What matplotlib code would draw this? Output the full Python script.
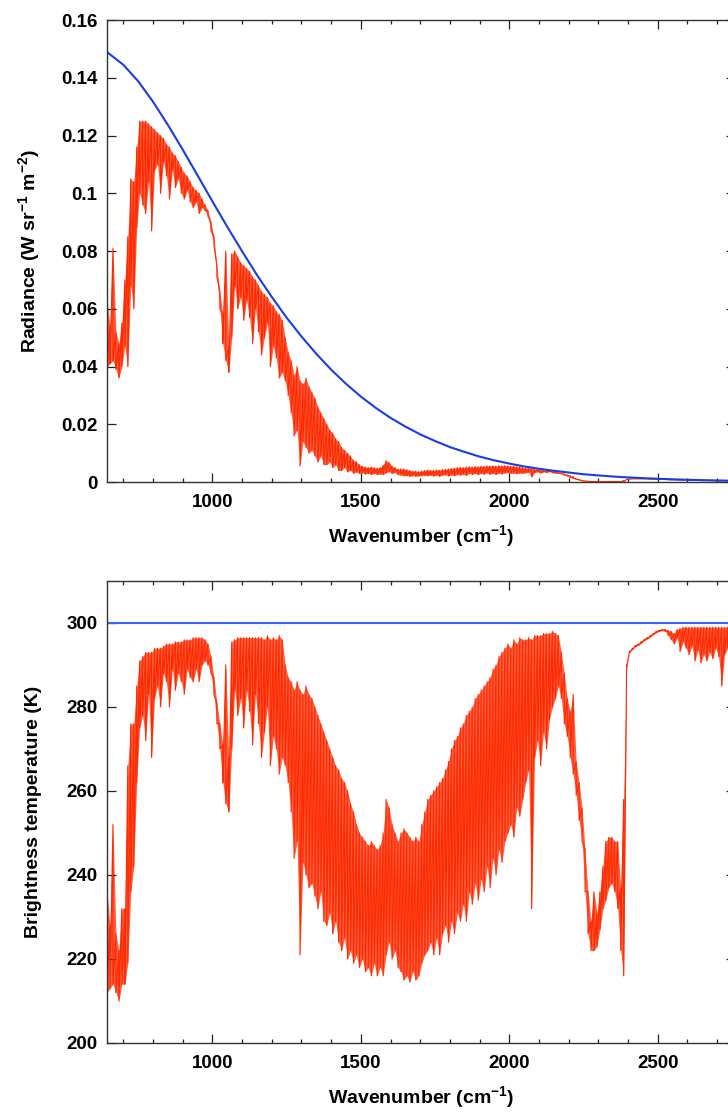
import numpy as np
import matplotlib
matplotlib.use('Agg')
import matplotlib.pyplot as plt
from matplotlib.ticker import MultipleLocator, FuncFormatter

# sampling grid of the spectrum readings (cm-1)
wn = np.arange(645, 2756, 10)

# radiance, upper / lower edge of the line spectrum (W sr-1 m-2)
rad_top = [
    0.063, 0.054, 0.081, 0.052, 0.048, 0.055, 0.070, 0.085, 0.105, 0.104,
    0.116, 0.125, 0.125, 0.125, 0.124, 0.123, 0.122, 0.121, 0.120, 0.119,
    0.117, 0.116, 0.114, 0.113, 0.111, 0.109, 0.107, 0.106, 0.104, 0.102,
    0.101, 0.100, 0.098, 0.096, 0.094, 0.090, 0.085, 0.075, 0.066, 0.058,
    0.080, 0.047, 0.079, 0.080, 0.078, 0.076, 0.075, 0.074, 0.073, 0.071,
    0.070, 0.068, 0.066, 0.065, 0.064, 0.062, 0.061, 0.059, 0.058, 0.056,
    0.050, 0.045, 0.042, 0.037, 0.040, 0.035, 0.034, 0.036, 0.033, 0.031,
    0.029, 0.026, 0.024, 0.022, 0.020, 0.018, 0.017, 0.015, 0.014, 0.012,
    0.011, 0.010, 0.009, 0.0075, 0.007, 0.006, 0.0055, 0.0052, 0.005, 0.0052,
    0.005, 0.0048, 0.005, 0.0058, 0.0074, 0.0068, 0.0055, 0.005, 0.0045, 0.0046,
    0.0045, 0.0043, 0.004, 0.0038, 0.0038, 0.0036, 0.0038, 0.004, 0.0042, 0.0041,
    0.004, 0.0042, 0.0041, 0.0043, 0.0044, 0.0045, 0.0047, 0.0048, 0.005, 0.0051,
    0.005, 0.0052, 0.0053, 0.0052, 0.0054, 0.0053, 0.0055, 0.0054, 0.0056, 0.0055,
    0.0056, 0.0055, 0.0057, 0.0056, 0.0057, 0.0056, 0.0055, 0.0055, 0.0053, 0.0053,
    0.0050, 0.0049, 0.0048, 0.0047, 0.0045, 0.0044, 0.0042, 0.0041, 0.0040, 0.0039,
    0.0037, 0.0036, 0.0034, 0.0031, 0.0028, 0.0025, 0.0022, 0.0019, 0.0012, 0.0009,
    0.0006, 0.0004, 0.0003, 0.0002, 0.0002, 0.0002, 0.0002, 0.0002, 0.0002, 0.0002,
    0.0002, 0.0002, 0.0002, 0.0002, 0.0005, 0.0009, 0.0010, 0.0011, 0.0011, 0.0011,
    0.0011, 0.0011, 0.0011, 0.0010, 0.0010, 0.0010, 0.0010, 0.0010, 0.0009, 0.0009,
    0.0009, 0.0008, 0.0008, 0.0008, 0.0008, 0.0008, 0.0007, 0.0007, 0.0007, 0.0007,
    0.0006, 0.0006, 0.0006, 0.0006, 0.0006, 0.0005, 0.0005, 0.0005, 0.0005, 0.0005,
    0.0005, 0.0004,
]
rad_low = [
    0.040, 0.041, 0.042, 0.039, 0.036, 0.040, 0.047, 0.040, 0.068, 0.060,
    0.088, 0.100, 0.096, 0.093, 0.104, 0.087, 0.108, 0.110, 0.100, 0.111,
    0.106, 0.098, 0.108, 0.102, 0.105, 0.100, 0.098, 0.101, 0.097, 0.095,
    0.097, 0.093, 0.095, 0.094, 0.092, 0.087, 0.082, 0.071, 0.060, 0.048,
    0.042, 0.038, 0.050, 0.068, 0.060, 0.064, 0.056, 0.063, 0.057, 0.048,
    0.060, 0.052, 0.044, 0.050, 0.055, 0.040, 0.047, 0.043, 0.036, 0.038,
    0.035, 0.030, 0.024, 0.016, 0.018, 0.0056, 0.014, 0.012, 0.010, 0.011,
    0.009, 0.007, 0.009, 0.006, 0.006, 0.007, 0.005, 0.006, 0.004, 0.004,
    0.005, 0.0035, 0.004, 0.003, 0.0035, 0.003, 0.0032, 0.0028, 0.003, 0.0026,
    0.003, 0.0026, 0.0028, 0.0026, 0.0032, 0.0036, 0.003, 0.0033, 0.0026, 0.0024,
    0.0022, 0.0022, 0.002, 0.0022, 0.002, 0.0021, 0.0022, 0.0023, 0.0022, 0.0024,
    0.0021, 0.0024, 0.002, 0.0024, 0.0025, 0.0021, 0.0025, 0.0022, 0.0026, 0.0024,
    0.0027, 0.0023, 0.003, 0.0026, 0.003, 0.0026, 0.003, 0.0027, 0.0032, 0.0027,
    0.0030, 0.0026, 0.0031, 0.0028, 0.0032, 0.0033, 0.0030, 0.0031, 0.0029, 0.0031,
    0.0030, 0.0032, 0.0034, 0.0018, 0.0033, 0.0035, 0.0031, 0.0035, 0.0033, 0.0036,
    0.0032, 0.0031, 0.0030, 0.0028, 0.0024, 0.0021, 0.0015, 0.0013, 0.0009, 0.0007,
    0.0004, 0.0003, 0.0002, 0.0001, 0.0001, 0.0001, 0.0001, 0.0001, 0.0001, 0.0001,
    0.0001, 0.0001, 0.0001, 0.0001, 0.0001, 0.0009, 0.0010, 0.0011, 0.0011, 0.0011,
    0.0011, 0.0011, 0.0011, 0.0010, 0.0010, 0.0010, 0.0010, 0.0009, 0.0009, 0.0008,
    0.0008, 0.0008, 0.0007, 0.0007, 0.0007, 0.0007, 0.0006, 0.0006, 0.0006, 0.0006,
    0.0005, 0.0005, 0.0005, 0.0005, 0.0005, 0.0004, 0.0004, 0.0004, 0.0004, 0.0004,
    0.0004, 0.0004,
]

# brightness temperature, upper / lower edge (K)
bt_top = [
    236, 228, 252, 226, 222, 232, 232, 266, 276, 276,
    285, 291, 292, 293, 293, 293, 294, 294, 294, 294.5,
    295, 295, 295, 295.5, 295.5, 295.5, 296, 296, 296, 296.5,
    296.5, 296.5, 296.5, 296, 295, 292, 287, 281, 276, 271,
    290, 268, 295.5, 296, 296.5, 296.5, 296.5, 296.5, 296.5, 296.5,
    296.5, 296.5, 296.5, 296, 297, 296, 296.5, 296, 297, 296,
    290, 287, 286, 284, 286, 284, 283, 285, 283, 282,
    280, 278, 276, 274, 272, 270, 268, 266, 265, 263,
    262, 260, 257, 255, 252, 250, 249, 248, 247, 248,
    247, 246, 247, 250, 258, 256, 252, 250, 248, 250,
    251, 250, 249, 248, 249, 248, 252, 255, 258, 259,
    260, 261, 262, 263, 265, 267, 270, 272, 273, 275,
    276, 278, 279, 280, 282, 283, 284, 285, 286, 287,
    289, 290, 292, 293, 294, 295, 294, 296, 295, 296.5,
    296, 296, 296.5, 296, 297, 297, 297, 297.5, 297.5, 297.5,
    298, 297.5, 297, 293, 288, 282, 279, 283, 267, 262,
    256, 246, 236, 229, 236, 231, 236, 242, 248, 249,
    249, 248, 248, 237, 258, 290, 293.3, 294, 294.7, 295,
    295.6, 296.1, 296.6, 297, 297.5, 298, 298.3, 298.5, 298.5, 298.2,
    298, 297.5, 298.5, 298.7, 299, 299, 299, 299, 299, 299,
    299, 299, 299, 299, 299, 299, 299, 299, 299, 299,
    299, 299,
]
bt_low = [
    212, 213, 214, 212, 210, 214, 214, 219, 236, 242,
    262, 275, 278, 272, 283, 268, 282, 285, 280, 288,
    286, 280, 289, 284, 288, 286, 283, 289, 287, 286,
    289, 286, 290, 291, 290, 288, 283, 276, 270, 262,
    257, 255, 270, 284, 278, 282, 275, 284, 279, 271,
    283, 276, 268, 274, 280, 266, 273, 270, 264, 268,
    266, 262, 255, 244, 248, 221, 243, 240, 237, 238,
    235, 232, 236, 229, 228, 231, 226, 229, 224, 222,
    225, 220, 222, 219, 221, 218, 220, 217, 218, 216,
    219, 216, 218, 216, 221, 224, 220, 222, 218, 217,
    215, 216, 214.5, 217, 215, 216, 219, 221, 222, 224,
    221, 225, 221, 226, 228, 224, 229, 226, 231, 229,
    233, 229, 236, 233, 238, 234, 239, 236, 242, 237,
    244, 240, 246, 243, 248, 250, 252, 249, 256, 254,
    258, 262, 265, 232, 268, 272, 266, 274, 270, 277,
    280, 282, 285, 282, 276, 273, 268, 264, 259, 253,
    248, 236, 226, 222, 222, 223, 227, 232, 234, 237,
    238, 236, 232, 222, 216, 289.5, 293, 293.7, 294.4, 294.7,
    295.2, 295.8, 296.2, 296.7, 297.2, 297.7, 298, 298.2, 298, 297,
    296, 295, 296.5, 293.2, 295.5, 294, 292.5, 294.5, 291, 293.5,
    290.5, 292.5, 291, 293, 291.5, 294, 292, 285, 292.5, 294,
    293, 294,
]

# 300 K blackbody reference
bb_wn = [645, 650, 700, 750, 800, 850, 900, 950, 1000, 1050, 1100, 1150,
         1200, 1250, 1300, 1350, 1400, 1450, 1500, 1550, 1600, 1650, 1700,
         1750, 1800, 1850, 1900, 1950, 2000, 2050, 2100, 2150, 2200, 2250,
         2300, 2350, 2400, 2450, 2500, 2550, 2600, 2650, 2700, 2750, 2760]
bb_rad = [0.1490, 0.1485, 0.1445, 0.1388, 0.1317, 0.1237, 0.1151, 0.1062,
          0.0972, 0.0884, 0.0799, 0.0717, 0.0641, 0.0569, 0.0504, 0.0444,
          0.0389, 0.0340, 0.0296, 0.0257, 0.0222, 0.0192, 0.0165, 0.0142,
          0.0121, 0.0104, 0.0088, 0.0075, 0.0064, 0.0054, 0.0046, 0.0039,
          0.0033, 0.0027, 0.0023, 0.0019, 0.0016, 0.00135, 0.00113, 0.00095,
          0.00079, 0.00066, 0.00055, 0.00045, 0.00044]
bb_bt_wn = [645, 2760]
bb_bt = [300, 300]

plt.rcParams['font.family'] = ['Liberation Sans', 'DejaVu Sans']
plt.rcParams['font.weight'] = 'bold'
plt.rcParams['mathtext.fontset'] = 'custom'
plt.rcParams['mathtext.rm'] = 'Liberation Sans:bold'
plt.rcParams['mathtext.bf'] = 'Liberation Sans:bold'
plt.rcParams['mathtext.it'] = 'Liberation Sans:bold:italic'
plt.rcParams['mathtext.default'] = 'rm'

red = '#ff2a00'


def draw_spectrum(ax, top, low):
    # dense line spectrum: shaded band between the edges plus a stroke per sample
    ax.fill_between(wn, top, low, color=red, alpha=0.75, lw=0)
    x = np.repeat(wn, 2)
    y = np.column_stack([top, low]).ravel()
    ax.plot(x, y, color=red, lw=0.8)


def style(ax, ymin, ymax, ystep):
    ax.set_xlim(645, 2760)
    ax.set_ylim(ymin, ymax)
    ax.xaxis.set_major_locator(MultipleLocator(500))
    ax.xaxis.set_minor_locator(MultipleLocator(100))
    ax.yaxis.set_major_locator(MultipleLocator(ystep))
    ax.yaxis.set_major_formatter(FuncFormatter(lambda v, p: '%g' % v))
    ax.tick_params(which='both', direction='in', top=True, right=True,
                   width=0.9, labelsize=13.5, color='#222222')
    ax.tick_params(which='major', length=6.5)
    ax.tick_params(which='minor', length=3.1)
    ax.tick_params(axis='x', pad=8.5)
    ax.tick_params(axis='y', pad=7)
    for s in ax.spines.values():
        s.set_linewidth(1.0)
        s.set_color('#333333')
    ax.set_xlabel('Wavenumber (cm$^{-1}$)', fontsize=14, fontweight='bold')
    ax.xaxis.set_label_coords(0.5, -0.088)
    ax.yaxis.set_label_coords(-0.104, 0.5)


fig = plt.figure(figsize=(7.28, 11.13), dpi=100)

ax1 = fig.add_axes([0.147, 0.5669, 0.8626, 0.4151])
draw_spectrum(ax1, rad_top, rad_low)
ax1.plot(bb_wn, bb_rad, color='#1a3de0', lw=1.5)
style(ax1, 0, 0.16, 0.02)
ax1.set_ylabel('Radiance (W sr$^{-1}$ m$^{-2}$)', fontsize=14, fontweight='bold')

ax2 = fig.add_axes([0.147, 0.0629, 0.8626, 0.4151])
draw_spectrum(ax2, bt_top, bt_low)
ax2.plot(bb_bt_wn, bb_bt, color='#3c64ee', lw=1.5)
style(ax2, 200, 310, 20)
ax2.set_ylabel('Brightness temperature (K)', fontsize=14, fontweight='bold')

fig.savefig('out.png', dpi=100)
